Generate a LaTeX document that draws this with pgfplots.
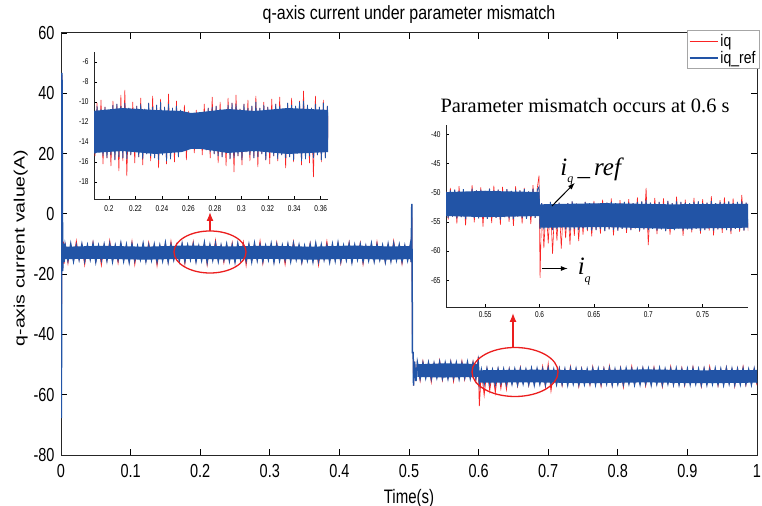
\documentclass[border=0pt]{standalone}
\usepackage{graphicx}
\usepackage{fontspec}
\setmainfont{Liberation Sans}
\newfontfamily\timesf{Liberation Serif}
\usepackage{pgfplots}
\usepackage{pgfplotstable}
\pgfplotsset{compat=1.18}
\usetikzlibrary{arrows.meta}
\definecolor{iqred}{RGB}{250,35,35}
\definecolor{iqblue}{RGB}{34,84,166}
\definecolor{annred}{RGB}{235,30,30}

\pgfplotstableread{
t r b
0.0000 -25.0 -25.0
0.0006 -66.5 -67.8
0.0014 46.0 46.8
0.0024 -18.5 -19.0
0.0034 -9.2 -9.8
0.0044 -16.6 -16.0
0.006 -9.6 -10.4
0.010 -16.4 -15.3
0.014 -10.1 -10.1
0.018 -15.6 -15.6
0.022 -9.0 -10.6
0.026 -15.1 -15.1
0.030 -10.2 -10.2
0.034 -16.9 -15.5
0.038 -10.5 -10.5
0.042 -15.0 -15.0
0.046 -9.4 -10.0
0.050 -15.8 -15.8
0.054 -10.7 -10.7
0.058 -17.0 -15.2
0.062 -10.3 -10.3
0.066 -15.4 -15.4
0.070 -8.9 -10.1
0.074 -15.7 -15.7
0.078 -10.6 -10.6
0.082 -16.3 -15.1
0.086 -9.9 -9.9
0.090 -15.5 -15.5
0.094 -10.4 -10.4
0.098 -15.9 -15.9
0.102 -9.2 -10.2
0.106 -16.8 -15.3
0.110 -10.8 -10.8
0.114 -15.0 -15.0
0.118 -10.0 -10.0
0.122 -15.6 -15.6
0.126 -9.5 -10.5
0.130 -15.2 -15.2
0.134 -10.3 -10.3
0.138 -17.2 -15.7
0.142 -10.6 -10.6
0.146 -15.4 -15.4
0.150 -9.8 -9.8
0.154 -16.0 -15.8
0.158 -9.1 -10.4
0.162 -15.1 -15.1
0.166 -10.7 -10.7
0.170 -15.5 -15.5
0.174 -10.1 -10.1
0.178 -16.6 -15.6
0.182 -10.5 -10.5
0.186 -15.0 -15.0
0.190 -9.3 -10.2
0.194 -15.7 -15.7
0.198 -10.8 -10.8
0.202 -15.3 -15.3
0.206 -9.7 -9.7
0.210 -16.9 -15.9
0.214 -10.4 -10.4
0.218 -15.2 -15.2
0.222 -8.8 -10.0
0.226 -15.6 -15.6
0.230 -10.6 -10.6
0.234 -16.2 -15.1
0.238 -10.2 -10.2
0.242 -15.5 -15.5
0.246 -9.6 -10.5
0.250 -15.8 -15.8
0.254 -10.0 -10.0
0.258 -15.0 -15.0
0.262 -9.4 -10.7
0.266 -17.1 -15.4
0.270 -10.3 -10.3
0.274 -15.7 -15.7
0.278 -9.9 -9.9
0.282 -15.3 -15.3
0.286 -9.0 -10.5
0.290 -16.5 -15.6
0.294 -10.7 -10.7
0.298 -15.1 -15.1
0.302 -10.1 -10.1
0.306 -15.9 -15.9
0.310 -9.5 -10.4
0.314 -15.4 -15.4
0.318 -10.6 -10.6
0.322 -16.8 -15.2
0.326 -10.2 -10.2
0.330 -15.6 -15.6
0.334 -9.2 -10.0
0.338 -15.0 -15.0
0.342 -10.5 -10.5
0.346 -16.3 -15.8
0.350 -10.8 -10.8
0.354 -15.3 -15.3
0.358 -9.7 -10.3
0.362 -15.7 -15.7
0.366 -10.0 -10.0
0.370 -17.0 -15.5
0.374 -10.4 -10.4
0.378 -15.1 -15.1
0.382 -9.1 -10.6
0.386 -15.8 -15.8
0.390 -10.2 -10.2
0.394 -15.4 -15.4
0.398 -9.8 -9.8
0.402 -16.4 -15.6
0.406 -10.7 -10.7
0.410 -15.2 -15.2
0.414 -9.4 -10.1
0.418 -15.9 -15.9
0.422 -10.5 -10.5
0.426 -15.0 -15.0
0.430 -9.6 -10.3
0.434 -16.7 -15.7
0.438 -10.8 -10.8
0.442 -15.3 -15.3
0.446 -10.0 -10.0
0.450 -15.6 -15.6
0.454 -9.3 -10.4
0.458 -15.1 -15.1
0.462 -10.6 -10.6
0.466 -16.1 -15.8
0.470 -10.2 -10.2
0.474 -15.5 -15.5
0.478 -9.0 -10.0
0.482 -15.2 -15.2
0.486 -10.4 -10.4
0.490 -16.6 -15.7
0.494 -10.7 -10.7
0.498 -15.3 -15.3
0.502 -10.1 -10.1
0.5030 -16.0 -16.0
0.5040 3.0 3.3
0.5050 -46.0 -46.0
0.5060 -46.0 -46.0
0.5065 -57.0 -57.0
0.5080 -49.0 -49.0
0.5100 -55.5 -55.5
0.512 -49.4 -49.4
0.516 -55.4 -54.5
0.520 -48.9 -49.6
0.524 -54.3 -54.3
0.528 -49.2 -49.5
0.532 -55.8 -54.6
0.536 -49.7 -49.7
0.540 -54.2 -54.2
0.544 -48.6 -49.3
0.548 -55.2 -54.4
0.552 -49.6 -49.6
0.556 -54.5 -54.5
0.560 -49.0 -49.4
0.564 -55.6 -54.3
0.568 -49.5 -49.5
0.572 -54.6 -54.6
0.576 -48.8 -49.7
0.580 -55.0 -54.2
0.584 -49.3 -49.3
0.588 -54.4 -54.4
0.592 -49.1 -49.6
0.596 -55.3 -54.5
0.5995 -47.3 -49.2
0.6010 -63.8 -56.0
0.604 -51.8 -51.8
0.608 -60.1 -56.3
0.612 -51.5 -51.5
0.616 -58.6 -56.2
0.620 -51.9 -51.9
0.624 -59.3 -56.5
0.628 -51.6 -51.6
0.632 -57.9 -56.1
0.636 -51.7 -51.7
0.640 -58.2 -56.4
0.644 -51.4 -51.8
0.648 -56.3 -56.3
0.652 -51.7 -51.7
0.656 -57.1 -56.5
0.660 -50.9 -51.6
0.664 -56.2 -56.2
0.668 -51.8 -51.8
0.672 -56.9 -56.4
0.676 -51.2 -51.5
0.680 -56.6 -56.6
0.684 -51.6 -51.6
0.688 -56.3 -56.3
0.692 -50.6 -51.7
0.696 -57.4 -56.5
0.700 -49.8 -51.4
0.704 -58.7 -56.2
0.708 -51.8 -51.8
0.712 -56.4 -56.4
0.716 -51.1 -51.6
0.720 -57.0 -56.3
0.724 -51.7 -51.7
0.728 -56.6 -56.6
0.732 -50.7 -51.5
0.736 -56.2 -56.2
0.740 -51.6 -51.6
0.744 -57.3 -56.5
0.748 -51.3 -51.8
0.752 -56.4 -56.4
0.756 -51.7 -51.7
0.760 -56.8 -56.1
0.764 -50.8 -51.5
0.768 -56.5 -56.5
0.772 -51.6 -51.6
0.776 -57.2 -56.3
0.780 -51.2 -51.7
0.784 -56.2 -56.2
0.788 -50.5 -51.4
0.792 -56.9 -56.6
0.796 -51.8 -51.8
0.800 -56.3 -56.3
0.804 -51.0 -51.6
0.808 -57.5 -56.4
0.812 -51.5 -51.5
0.816 -56.2 -56.2
0.820 -50.6 -51.7
0.824 -56.7 -56.5
0.828 -51.8 -51.8
0.832 -56.4 -56.4
0.836 -51.2 -51.5
0.840 -57.1 -56.2
0.844 -51.6 -51.6
0.848 -56.6 -56.6
0.852 -50.9 -51.7
0.856 -56.3 -56.3
0.860 -51.4 -51.4
0.864 -57.4 -56.5
0.868 -51.7 -51.7
0.872 -56.2 -56.2
0.876 -50.7 -51.6
0.880 -56.8 -56.4
0.884 -51.5 -51.5
0.888 -56.5 -56.5
0.892 -51.1 -51.8
0.896 -57.0 -56.3
0.900 -51.6 -51.6
0.904 -56.4 -56.4
0.908 -50.8 -51.5
0.912 -56.2 -56.2
0.916 -51.7 -51.7
0.920 -57.3 -56.6
0.924 -51.3 -51.6
0.928 -56.5 -56.5
0.932 -50.6 -51.8
0.936 -56.3 -56.3
0.940 -51.5 -51.5
0.944 -57.0 -56.4
0.948 -51.7 -51.7
0.952 -56.6 -56.6
0.956 -50.9 -51.4
0.960 -56.2 -56.2
0.964 -51.6 -51.6
0.968 -57.2 -56.5
0.972 -51.2 -51.7
0.976 -56.4 -56.4
0.980 -50.7 -51.5
0.984 -56.8 -56.3
0.988 -51.8 -51.8
0.992 -56.5 -56.5
0.996 -51.4 -51.6
1.000 -56.9 -56.2
}\maindata

\pgfplotstableread{
t r b
0.1880 -10.6 -10.6
0.1895 -15.4 -15.2
0.1910 -10.1 -10.4
0.1925 -15.0 -15.0
0.1940 -9.8 -10.7
0.1955 -16.2 -15.4
0.1970 -10.5 -10.5
0.1985 -15.6 -15.6
0.2000 -10.9 -10.9
0.2015 -16.4 -15.3
0.2030 -9.9 -10.3
0.2045 -15.8 -15.8
0.2060 -10.2 -10.2
0.2075 -16.9 -15.5
0.2090 -9.3 -10.4
0.2105 -15.9 -15.6
0.2120 -8.8 -10.1
0.2135 -17.4 -15.7
0.2150 -10.6 -10.6
0.2165 -15.3 -15.3
0.2180 -10.0 -10.8
0.2195 -16.1 -15.0
0.2210 -10.4 -10.4
0.2225 -15.5 -15.5
0.2240 -9.6 -10.2
0.2255 -16.3 -15.7
0.2270 -10.7 -10.7
0.2285 -15.2 -15.2
0.2300 -10.1 -10.1
0.2315 -15.9 -15.4
0.2330 -9.4 -10.5
0.2345 -15.6 -15.6
0.2360 -10.3 -10.3
0.2375 -16.6 -15.8
0.2390 -9.7 -10.0
0.2405 -15.3 -15.3
0.2420 -10.5 -10.5
0.2435 -16.2 -15.9
0.2450 -9.2 -10.2
0.2465 -15.7 -15.7
0.2480 -10.6 -10.6
0.2495 -16.0 -15.1
0.2510 -9.9 -10.4
0.2525 -15.5 -15.5
0.2540 -10.8 -10.8
0.2555 -14.9 -14.9
0.2570 -10.3 -11.0
0.2585 -15.8 -14.8
0.2600 -10.9 -11.2
0.2615 -14.6 -14.6
0.2630 -11.4 -11.4
0.2645 -15.1 -14.4
0.2660 -10.8 -11.3
0.2675 -14.5 -14.5
0.2690 -11.1 -11.1
0.2705 -15.3 -14.7
0.2720 -10.2 -10.9
0.2735 -14.8 -14.8
0.2750 -10.6 -10.6
0.2765 -15.6 -15.0
0.2780 -9.5 -10.5
0.2795 -15.2 -15.2
0.2810 -10.4 -10.4
0.2825 -16.1 -15.4
0.2840 -10.0 -10.7
0.2855 -15.5 -15.5
0.2870 -10.8 -10.8
0.2885 -16.4 -15.1
0.2900 -9.6 -10.3
0.2915 -15.7 -15.7
0.2930 -10.1 -10.1
0.2945 -17.0 -15.6
0.2960 -9.3 -10.2
0.2975 -15.4 -15.4
0.2990 -10.7 -10.7
0.3005 -16.3 -15.8
0.3020 -10.2 -10.2
0.3035 -15.0 -15.0
0.3050 -9.8 -10.6
0.3065 -15.9 -15.3
0.3080 -10.4 -10.4
0.3095 -15.6 -15.6
0.3110 -9.4 -10.0
0.3125 -16.5 -15.5
0.3140 -10.6 -10.6
0.3155 -15.2 -15.2
0.3170 -10.0 -10.3
0.3185 -15.8 -15.8
0.3200 -10.5 -10.5
0.3215 -16.2 -15.1
0.3230 -9.7 -10.8
0.3245 -15.4 -15.4
0.3260 -10.2 -10.2
0.3275 -15.9 -15.7
0.3290 -9.5 -10.4
0.3305 -15.3 -15.3
0.3320 -10.7 -10.7
0.3335 -16.6 -15.6
0.3350 -10.1 -10.1
0.3365 -15.5 -15.5
0.3380 -9.6 -10.3
0.3395 -16.0 -15.8
0.3410 -10.4 -10.4
0.3425 -15.1 -15.1
0.3440 -9.9 -10.0
0.3455 -16.3 -15.9
0.3470 -8.9 -9.9
0.3485 -15.7 -15.7
0.3500 -10.3 -10.3
0.3515 -16.1 -15.4
0.3530 -10.6 -10.6
0.3545 -17.5 -15.6
0.3560 -9.4 -10.2
0.3575 -15.3 -15.3
0.3590 -10.5 -10.5
0.3605 -16.0 -15.8
0.3620 -9.8 -10.1
0.3635 -15.6 -15.6
0.3650 -10.4 -10.4
0.3665 -15.9 -15.2
}\zoomA

\pgfplotstableread{
t r b
0.514 -49.8 -49.8
0.516 -54.6 -54.3
0.518 -49.2 -49.6
0.520 -54.1 -54.1
0.522 -49.5 -49.5
0.524 -55.3 -54.4
0.526 -48.9 -49.7
0.528 -54.2 -54.2
0.530 -49.4 -49.4
0.532 -55.6 -54.5
0.534 -49.9 -49.9
0.536 -54.0 -54.0
0.538 -48.7 -49.3
0.540 -55.1 -54.3
0.542 -49.6 -49.6
0.544 -54.4 -54.4
0.546 -49.1 -49.5
0.548 -55.8 -54.2
0.550 -49.7 -49.7
0.552 -54.5 -54.5
0.554 -49.3 -49.3
0.556 -55.2 -54.1
0.558 -48.8 -49.6
0.560 -54.3 -54.3
0.562 -49.5 -49.5
0.564 -55.5 -54.6
0.566 -49.0 -49.8
0.568 -54.2 -54.2
0.570 -49.4 -49.4
0.572 -55.0 -54.4
0.574 -49.7 -49.7
0.576 -55.7 -54.5
0.578 -48.9 -49.5
0.580 -54.1 -54.1
0.582 -49.6 -49.6
0.584 -55.3 -54.3
0.586 -49.2 -49.4
0.588 -54.5 -54.5
0.590 -49.8 -49.8
0.592 -55.4 -54.2
0.594 -48.7 -49.3
0.596 -54.3 -54.3
0.598 -49.1 -49.5
0.5995 -47.1 -49.0
0.6005 -64.6 -56.2
0.602 -51.8 -51.8
0.604 -59.5 -56.3
0.606 -52.0 -52.0
0.608 -58.7 -56.1
0.610 -51.6 -51.6
0.612 -60.5 -56.4
0.614 -51.9 -51.9
0.616 -58.2 -56.2
0.618 -51.7 -51.7
0.620 -59.6 -56.0
0.622 -52.1 -52.1
0.624 -57.8 -56.3
0.626 -51.8 -51.8
0.628 -58.9 -56.5
0.630 -51.5 -51.5
0.632 -57.4 -56.2
0.634 -51.9 -51.9
0.636 -58.3 -56.4
0.638 -52.0 -52.0
0.640 -57.2 -56.1
0.642 -51.6 -51.6
0.644 -56.6 -56.3
0.646 -51.8 -51.8
0.648 -57.5 -56.5
0.650 -51.4 -51.7
0.652 -56.4 -56.4
0.654 -51.9 -51.9
0.656 -57.0 -56.2
0.658 -51.2 -51.8
0.660 -56.6 -56.6
0.662 -51.7 -51.7
0.664 -56.3 -56.3
0.666 -51.0 -51.6
0.668 -57.3 -56.4
0.670 -51.8 -51.8
0.672 -56.5 -56.5
0.674 -51.3 -51.9
0.676 -56.2 -56.2
0.678 -51.6 -51.6
0.680 -56.9 -56.3
0.682 -51.1 -51.7
0.684 -56.4 -56.4
0.686 -51.8 -51.8
0.688 -56.1 -56.1
0.690 -50.8 -51.6
0.692 -56.7 -56.5
0.694 -51.5 -51.5
0.696 -56.3 -56.3
0.698 -49.2 -51.3
0.700 -59.0 -56.4
0.702 -51.7 -51.7
0.704 -56.2 -56.2
0.706 -50.9 -51.8
0.708 -57.1 -56.5
0.710 -51.6 -51.6
0.712 -56.3 -56.3
0.714 -51.0 -51.9
0.716 -56.6 -56.6
0.718 -51.4 -51.4
0.720 -57.2 -56.2
0.722 -51.8 -51.8
0.724 -56.4 -56.4
0.726 -50.7 -51.5
0.728 -56.1 -56.1
0.730 -51.6 -51.6
0.732 -57.4 -56.5
0.734 -51.2 -51.7
0.736 -56.3 -56.3
0.738 -51.8 -51.8
0.740 -56.8 -56.4
0.742 -50.9 -51.6
0.744 -56.2 -56.2
0.746 -51.5 -51.5
0.748 -57.0 -56.6
0.750 -51.1 -51.8
0.752 -56.4 -56.4
0.754 -51.7 -51.7
0.756 -56.5 -56.1
0.758 -50.6 -51.4
0.760 -57.3 -56.5
0.762 -51.8 -51.8
0.764 -56.3 -56.3
0.766 -51.3 -51.6
0.768 -56.9 -56.2
0.770 -50.8 -51.7
0.772 -56.4 -56.4
0.774 -51.5 -51.5
0.776 -57.1 -56.6
0.778 -51.0 -51.8
0.780 -56.2 -56.2
0.782 -51.6 -51.6
0.784 -56.7 -56.3
0.786 -50.4 -51.5
0.788 -56.5 -56.5
0.790 -51.7 -51.7
0.792 -56.6 -56.1
}\zoomB

\begin{document}
\begin{tikzpicture}
\begin{axis}[
  at={(61bp,51bp)}, anchor=south west,
  scale only axis, width=696bp, height=422bp,
  xmin=0, xmax=1, ymin=-80, ymax=60,
  xtick={0,0.1,0.2,0.3,0.4,0.5,0.6,0.7,0.8,0.9,1},
  ytick={-80,-60,-40,-20,0,20,40,60},
  /pgf/number format/assume math mode=true,
  tick align=inside, major tick length=6bp,
  tick style={line width=0.8bp, black},
  axis line style={line width=1bp, black!85},
  xticklabel style={font=\fontsize{14.5bp}{16bp}\selectfont, yshift=-5bp, yscale=1.3},
  yticklabel style={font=\fontsize{14.5bp}{16bp}\selectfont, xshift=-3bp, yscale=1.3},
  title={q-axis current under parameter mismatch},
  title style={at={(0.5,1)}, anchor=base, yshift=8bp, font=\fontsize{16bp}{18bp}\selectfont, yscale=1.2},
  xlabel={Time(s)},
  xlabel style={at={(0.5,0)}, anchor=base, yshift=-48bp, font=\fontsize{15bp}{17bp}\selectfont, yscale=1.3},
  ylabel={q-axis current value(A)},
  ylabel style={at={(axis description cs:-0.058,0.49)}, anchor=center, font=\fontsize{15bp}{17bp}\selectfont, xscale=1.3},
  legend style={at={(1.004,1.007)}, anchor=north east, draw=gray!70, line width=0.6bp, fill=white,
    inner sep=2bp, font=\fontsize{14bp}{16bp}\selectfont, row sep=-1bp},
  legend cell align=left,
  legend image code/.code={\draw[#1] (0bp,0bp) -- (28bp,0bp);},
]
\addplot[iqred, line width=0.8bp] table[x=t, y=r] {\maindata};
\addlegendentry{\scalebox{1}[1.2]{iq}}
\addplot[iqblue, line width=1.5bp] table[x=t, y=b] {\maindata};
\addlegendentry{\scalebox{1}[1.2]{iq\_ref}}
% solid core of the blue band
\addplot[forget plot, fill=iqblue, draw=none] coordinates {
 (0.006,-10.9) (0.06,-10.6) (0.12,-10.9) (0.18,-10.5) (0.24,-10.8) (0.30,-10.6)
 (0.36,-10.9) (0.42,-10.5) (0.47,-10.8) (0.502,-10.7)
 (0.502,-15.0) (0.47,-15.2) (0.42,-14.9) (0.36,-15.2) (0.30,-14.9) (0.24,-15.1)
 (0.18,-14.9) (0.12,-15.2) (0.06,-14.9) (0.006,-15.0)};
\addplot[forget plot, fill=iqblue, draw=none] coordinates {
 (0.512,-49.9) (0.55,-49.6) (0.5995,-49.8) (0.5995,-54.1) (0.55,-54.3) (0.512,-54.1)};
\addplot[forget plot, fill=iqblue, draw=none] coordinates {
 (0.6005,-51.9) (0.68,-51.7) (0.76,-51.9) (0.84,-51.6) (0.92,-51.9) (1.0,-51.8)
 (1.0,-56.0) (0.92,-56.2) (0.84,-55.9) (0.76,-56.2) (0.68,-55.9) (0.6005,-56.0)};
\end{axis}

% inset 1
\begin{axis}[
  at={(94bp,307bp)}, anchor=south west,
  scale only axis, width=234bp, height=147bp,
  xmin=0.1887, xmax=0.3655, ymin=-19.7, ymax=-5,
  axis x line*=bottom, axis y line*=left,
  axis line style={-, line width=0.8bp, black!85},
  xtick={0.2,0.22,0.24,0.26,0.28,0.3,0.32,0.34,0.36},
  ytick={-18,-16,-14,-12,-10,-8,-6},
  /pgf/number format/assume math mode=true,
  tick align=inside, major tick length=3bp,
  tick style={line width=0.5bp, black},
  xticklabel style={font=\fontsize{6.5bp}{7bp}\selectfont, yshift=-2bp, yscale=1.3},
  yticklabel style={font=\fontsize{6.5bp}{7bp}\selectfont, xshift=-2bp, yscale=1.3},
]
\addplot[iqred, line width=0.6bp] table[x=t, y=r] {\zoomA};
\addplot[forget plot, fill=iqblue, draw=none] coordinates {
 (0.188,-10.9) (0.21,-10.6) (0.235,-10.8) (0.255,-10.9) (0.262,-11.1) (0.270,-11.0)
 (0.29,-10.7) (0.31,-10.9) (0.335,-10.6) (0.3665,-10.8)
 (0.3665,-15.0) (0.335,-15.2) (0.31,-14.9) (0.29,-15.1) (0.270,-14.7) (0.262,-14.7)
 (0.255,-15.0) (0.235,-15.2) (0.21,-14.9) (0.188,-15.1)};
\addplot[iqblue, line width=0.8bp] table[x=t, y=b] {\zoomA};
\end{axis}

% inset 2
\begin{axis}[
  at={(446bp,199bp)}, anchor=south west,
  scale only axis, width=302bp, height=182bp,
  xmin=0.514, xmax=0.7917, ymin=-69.6, ymax=-38.4,
  axis x line*=bottom, axis y line*=left,
  axis line style={-, line width=0.8bp, black!85},
  xtick={0.55,0.6,0.65,0.7,0.75},
  ytick={-65,-60,-55,-50,-45,-40},
  /pgf/number format/assume math mode=true,
  tick align=inside, major tick length=3bp,
  tick style={line width=0.5bp, black},
  xticklabel style={font=\fontsize{6.5bp}{7bp}\selectfont, yscale=1.3},
  yticklabel style={font=\fontsize{6.5bp}{7bp}\selectfont, xshift=-2bp, yscale=1.3},
]
\addplot[iqred, line width=0.6bp] table[x=t, y=r] {\zoomB};
\addplot[forget plot, fill=iqblue, draw=none] coordinates {
 (0.514,-49.9) (0.55,-49.7) (0.5998,-49.9) (0.5998,-52.0) (0.66,-51.8) (0.72,-52.0) (0.792,-51.9)
 (0.792,-56.0) (0.72,-56.2) (0.66,-55.9) (0.6,-56.0) (0.6,-54.0) (0.55,-54.2) (0.514,-54.0)};
\addplot[iqblue, line width=0.9bp] table[x=t, y=b] {\zoomB};
\draw[-{Latex[length=7bp,width=5bp]}, line width=1bp] (axis cs:0.6114,-52.3) -- (axis cs:0.6325,-48.3);
\draw[-{Latex[length=7bp,width=5bp]}, line width=1bp] (axis cs:0.6022,-63.0) -- (axis cs:0.626,-63.0);
\node[anchor=base west, inner sep=0pt, font=\timesf\itshape\fontsize{25bp}{28bp}\selectfont]
  at (axis cs:0.619,-47.0) {i\raisebox{-0.3em}{\fontsize{12bp}{13bp}\selectfont q}\,\_\,ref};
\node[anchor=base west, inner sep=0pt, font=\timesf\itshape\fontsize{25bp}{28bp}\selectfont]
  at (axis cs:0.635,-64.1) {i\raisebox{-0.3em}{\fontsize{12bp}{13bp}\selectfont q}};
\end{axis}

\node[anchor=base, inner sep=0pt, font=\timesf\fontsize{20.4bp}{24bp}\selectfont] at (585bp,393bp) {Parameter mismatch occurs at 0.6 s};

\draw[annred, line width=1.3bp] (210bp,254bp) ellipse [x radius=36bp, y radius=21bp];
\draw[annred, line width=1.3bp, -{Latex[length=9bp,width=7bp]}] (210bp,275bp) -- (210bp,294bp);
\draw[annred, line width=1.3bp] (515bp,134bp) ellipse [x radius=43bp, y radius=24.5bp];
\draw[annred, line width=1.3bp, -{Latex[length=9bp,width=7bp]}] (513bp,158.5bp) -- (513bp,193bp);

\pgfresetboundingbox
\path[use as bounding box] (0bp,0bp) rectangle (762bp,506bp);
\end{tikzpicture}
\end{document}
